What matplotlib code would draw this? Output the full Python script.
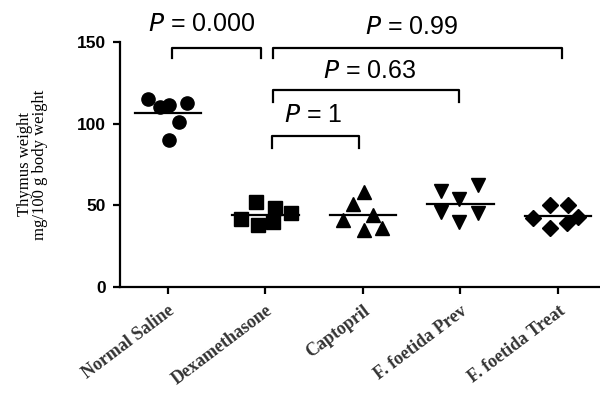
import matplotlib
matplotlib.use("Agg")
import matplotlib.pyplot as plt
import numpy as np

categories = ["Normal Saline", "Dexamethasone", "Captopril", "F. foetida Prev", "F. foetida Treat"]
normal_saline = [115, 110, 111.5, 112.7, 101, 90]
dexamethasone = [52, 48.4, 45.3, 41.6, 38, 39.8]
captopril = [58.2, 50.8, 44.1, 41, 34.9, 36.1]
ff_prev = [58.8, 62.5, 53.9, 45.9, 39.8, 45.3]
ff_treat = [50.2, 50.2, 42.3, 39.2, 36.1, 42.9]
series = [normal_saline, dexamethasone, captopril, ff_prev, ff_treat]
p_values = ["0.000", "0.99", "0.63", "1"]

# horizontal scatter offsets (layout only)
offsets = [
    [-0.2, -0.08, 0.01, 0.2, 0.11, 0.01],
    [-0.1, 0.1, 0.26, -0.25, -0.08, 0.08],
    [0.01, -0.1, 0.1, -0.2, 0.01, 0.2],
    [-0.2, 0.18, -0.02, -0.2, -0.02, 0.18],
    [-0.08, 0.1, -0.26, 0.09, -0.08, 0.2],
]
markers = ["o", "s", "^", "v", "D"]
msizes = [9.5, 9.5, 10.5, 10.5, 8.5]

fig = plt.figure(figsize=(6, 3.94), dpi=100)
ax = fig.add_axes([0.2, 0.2716, 0.8, 0.6218])

for i, (vals, offs) in enumerate(zip(series, offsets)):
    xs = i + np.array(offs)
    ax.plot(xs, vals, linestyle="none", marker=markers[i], markersize=msizes[i],
            color="black", clip_on=False)
    m = np.mean(vals)
    ax.plot([i - 0.34, i + 0.34], [m, m], color="black", lw=1.6)

ax.set_xlim(-0.49, 4.43)
ax.set_ylim(0, 150)
ax.set_yticks([0, 50, 100, 150])
ax.set_yticklabels(["0", "50", "100", "150"], fontfamily="Liberation Sans",
                   fontweight="bold", fontsize=12.5)
ax.set_xticks(range(len(categories)))
ax.set_xticklabels(categories, rotation=37, ha="right", rotation_mode="anchor",
                   fontfamily="Liberation Serif", fontweight="bold", fontsize=13,
                   color="#333333")
for s in ["top", "right"]:
    ax.spines[s].set_visible(False)
for s in ["left", "bottom"]:
    ax.spines[s].set_linewidth(1.6)
ax.tick_params(axis="both", width=1.6, length=5)
ax.tick_params(axis="y", pad=5)
ax.tick_params(axis="x", pad=6)

ax.set_ylabel("Thymus weight\nmg/100 g body weight", fontfamily="Liberation Serif",
              fontsize=12, linespacing=0.95)
ax.yaxis.set_label_coords(-0.15, 0.5)

# brackets (layout positions)
brackets = [
    (0.04, 0.96, 146.4, 140, 0.35, 161),
    (1.08, 4.04, 146.4, 140, 2.5, 159),
    (1.08, 2.98, 120.6, 113, 2.07, 132),
    (1.07, 1.96, 92.5, 85, 1.49, 105),
]
for (x1, x2, y, yb, tx, ty), val in zip(brackets, p_values):
    ax.plot([x1, x1, x2, x2], [yb, y, y, yb], color="black", lw=1.6, clip_on=False)
    ax.text(tx, ty, r"$\mathit{P}$ = " + val, ha="center", va="center",
            fontfamily="Liberation Sans", fontsize=18, clip_on=False)

fig.savefig("out.png", dpi=100)
